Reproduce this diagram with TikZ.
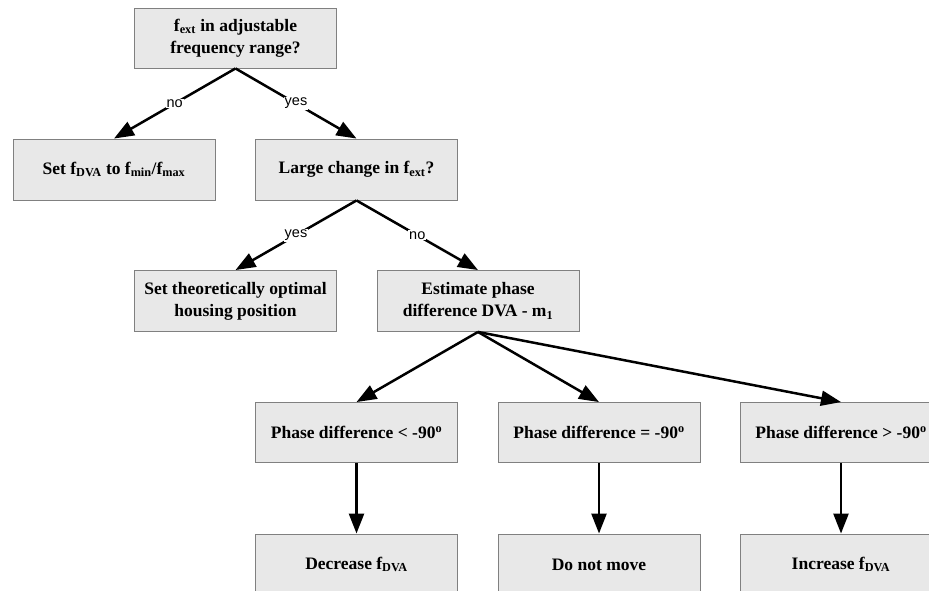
\documentclass[tikz,border=0pt]{standalone}
\usepackage{fontspec}
\setmainfont{Liberation Serif}
\newfontfamily\labelfont{Liberation Sans}
\usetikzlibrary{arrows.meta}

\tikzset{
  box/.style={draw=black!50, fill=black!9, line width=0.9pt, minimum width=202pt, minimum height=61pt,
    inner sep=0pt, align=center, font=\fontsize{17.5}{22}\selectfont\bfseries},
  arr/.style={-{Triangle[length=20pt,width=15pt]}, line width=2.5pt},
  lbl/.style={fill=white, inner sep=1pt, font=\labelfont\fontsize{14.5}{16}\selectfont}
}

\begin{document}
\begin{tikzpicture}[x=1pt,y=-1pt]
\useasboundingbox (0,0) rectangle (929,591);
\clip (0,0) rectangle (929,591);
% decision boxes
\node[box, minimum height=60pt] (range) at (235.5,38) {f\textsubscript{ext} in adjustable\\frequency range?};
\node[box] (setdva) at (114,169.5) {Set f\textsubscript{DVA} to f\textsubscript{min}/f\textsubscript{max}};
\node[box] (change) at (356.5,169.5) {Large change in f\textsubscript{ext}?};
\node[box] (theory) at (235.5,301) {Set theoretically optimal\\housing position};
\node[box] (estimate) at (478,301) {Estimate phase\\difference DVA - m\textsubscript{1}};
% phase cases
\node[box, minimum height=60pt] (lt) at (356.5,432.5) {Phase difference < -90\textsuperscript{o}};
\node[box, minimum height=60pt] (eq) at (599,432.5) {Phase difference = -90\textsuperscript{o}};
\node[box, minimum height=60pt] (gt) at (841,432.5) {Phase difference > -90\textsuperscript{o}};
\node[box] (dec) at (356.5,564.5) {Decrease f\textsubscript{DVA}};
\node[box] (stay) at (599,564.5) {Do not move};
\node[box] (inc) at (841,564.5) {Increase f\textsubscript{DVA}};
% connectors
\draw[arr] (range.south) -- node[lbl] {no} (setdva.north);
\draw[arr] (range.south) -- node[lbl] {yes} (change.north);
\draw[arr] (change.south) -- node[lbl] {yes} (theory.north);
\draw[arr] (change.south) -- node[lbl] {no} (estimate.north);
\draw[arr] (estimate.south) -- (lt.north);
\draw[arr] (estimate.south) -- (eq.north);
\draw[arr] (estimate.south) -- (gt.north);
\draw[arr] (lt.south) -- (dec.north);
\draw[arr] (eq.south) -- (stay.north);
\draw[arr] (gt.south) -- (inc.north);
\end{tikzpicture}
\end{document}
